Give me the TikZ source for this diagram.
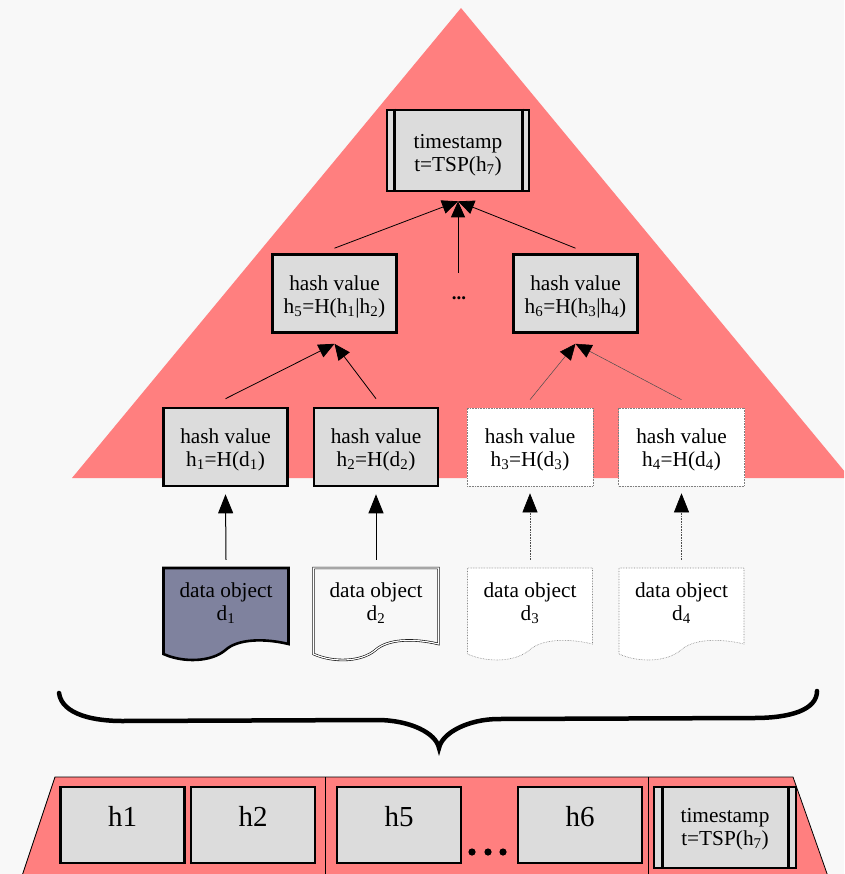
\documentclass[tikz,border=0pt]{standalone}
\usepackage{fontspec}
\setmainfont{Liberation Serif}
\usetikzlibrary{arrows.meta}
\definecolor{bg}{RGB}{248,248,248}
\definecolor{salmon}{RGB}{255,127,127}
\definecolor{boxgray}{RGB}{220,220,220}
\definecolor{dobj}{RGB}{127,130,158}
\newcommand\shiftlines[2]{\raisebox{#1}[\height][\depth]{\begin{tabular}{@{}c@{}}#2\end{tabular}}}
\tikzset{
  every node/.style={font=\fontsize{21.3}{23}\selectfont},
  hbox/.style={draw=black, line width=2.6pt, fill=boxgray, minimum width=124pt, minimum height=78pt, align=center, inner sep=0pt},
  hboxlight/.style={draw=gray, densely dotted, line width=0.6pt, fill=white, minimum width=126pt, minimum height=78pt, align=center, inner sep=0pt},
  tsbox/.style={draw=black, line width=2.6pt, fill=boxgray, minimum width=142pt, minimum height=81pt, align=center, inner sep=0pt},
  bbox/.style={draw=black, line width=2.6pt, fill=boxgray, minimum width=124pt, minimum height=76pt, inner sep=0pt, font=\fontsize{29}{30}\selectfont},
  dtext/.style={minimum width=125pt, minimum height=68pt, align=center, inner sep=0pt},
  arr/.style={-{Triangle[length=16pt,width=14pt]}, line width=0.8pt},
  varr/.style={-{Triangle[length=19pt,width=15pt]}, line width=1pt},
  grayarr/.style={-{Triangle[length=16pt,width=14pt,color=black]}, draw=gray!60!black, line width=0.5pt},
  grayvarr/.style={-{Triangle[length=19pt,width=15pt,color=black]}, draw=gray!60!black, line width=0.6pt, densely dotted},
  docshape/.pic={\path[pic actions] (0,0) -- (0,86) .. controls (20,95) and (48,94) .. (62,82) .. controls (74,71) and (100,70) .. (125,76) -- (125,0) -- cycle;}
}
\begin{document}
\begin{tikzpicture}[x=1pt,y=-1pt]
\useasboundingbox (0,0) rectangle (844,874);
\clip (0,0) rectangle (844,874);
\fill[bg] (0,0) rectangle (844,874);
% triangle
\fill[salmon] (461,8) -- (850,478) -- (72,478) -- cycle;

% top timestamp
\node[tsbox] (ts) at (458,150.5) {\shiftlines{-5pt}{timestamp\\t=TSP(h\textsubscript{7})}};
\draw[line width=2.6pt] ([xshift=9pt]ts.north west) -- ([xshift=9pt]ts.south west);
\draw[line width=2.6pt] ([xshift=-8pt]ts.north east) -- ([xshift=-8pt]ts.south east);

% second level
\node[hbox] (h5) at (334.5,293.5) {\shiftlines{-4pt}{hash value\\h\textsubscript{5}=H(h\textsubscript{1}|h\textsubscript{2})}};
\node[hbox] (h6) at (575.5,293.5) {\shiftlines{-4pt}{hash value\\h\textsubscript{6}=H(h\textsubscript{3}|h\textsubscript{4})}};
\node[font=\fontsize{19}{20}\selectfont\bfseries] (dots) at (459,298) {...};
\coordinate (mid) at (458,273);

% first level
\node[hbox] (h1) at (225.5,447) {\shiftlines{-3.5pt}{hash value\\h\textsubscript{1}=H(d\textsubscript{1})}};
\node[hbox] (h2) at (376,447) {\shiftlines{-3.5pt}{hash value\\h\textsubscript{2}=H(d\textsubscript{2})}};
\node[hboxlight] (h3) at (530,447) {\shiftlines{-3.5pt}{hash value\\h\textsubscript{3}=H(d\textsubscript{3})}};
\node[hboxlight] (h4) at (681.5,447) {\shiftlines{-3.5pt}{hash value\\h\textsubscript{4}=H(d\textsubscript{4})}};

% data objects
\pic[draw=black, line width=2.6pt, fill=dobj] at (163.5,568) {docshape};
\pic[draw=black, line width=0.6pt, double=white, double distance=1.2pt] at (313.5,568) {docshape};
\pic[draw=gray, densely dotted, line width=0.6pt, fill=white] at (467.5,568) {docshape};
\pic[draw=gray, densely dotted, line width=0.6pt, fill=white] at (619,568) {docshape};
\node[dtext] (d1) at (226,602) {\shiftlines{-2pt}{data object\\d\textsubscript{1}}};
\node[dtext] (d2) at (376,602) {\shiftlines{-2pt}{data object\\d\textsubscript{2}}};
\node[dtext] (d3) at (530,602) {\shiftlines{-2pt}{data object\\d\textsubscript{3}}};
\node[dtext] (d4) at (681.5,602) {\shiftlines{-2pt}{data object\\d\textsubscript{4}}};

% arrows
\draw[arr] ([yshift=5pt]h5.north) -- ([yshift=-9pt]ts.south);
\draw[arr] (mid) -- ([yshift=-9pt]ts.south);
\draw[arr] ([yshift=5pt]h6.north) -- ([yshift=-9pt]ts.south);
\draw[arr] ([yshift=8pt]h1.north) -- ([yshift=-10pt]h5.south);
\draw[arr] ([yshift=8pt]h2.north) -- ([yshift=-10pt]h5.south);
\draw[grayarr] ([yshift=8pt]h3.north) -- ([yshift=-10pt]h6.south);
\draw[grayarr] ([yshift=8pt]h4.north) -- ([yshift=-10pt]h6.south);
\draw[varr] ([yshift=8pt]d1.north) -- ([yshift=-7pt]h1.south);
\draw[varr] ([yshift=8pt]d2.north) -- ([yshift=-7pt]h2.south);
\draw[grayvarr] ([yshift=8pt]d3.north) -- ([yshift=-7pt]h3.south);
\draw[grayvarr] ([yshift=8pt]d4.north) -- ([yshift=-7pt]h4.south);

% brace
\draw[line width=4.5pt, line cap=round] (59,693) .. controls (62,715) and (95,721) .. (122,721) -- (377,720) .. controls (410,720) and (436,733) .. (439,748) .. controls (442,733) and (468,719) .. (499,719) -- (754,718) .. controls (790,718) and (817,710) .. (817,691);

% bottom bar
\draw[fill=salmon, line width=0.8pt] (55,777) -- (793,777) -- (831,885) -- (19,885) -- cycle;
\draw[line width=0.8pt] (325,777) -- (325,880);
\draw[line width=0.8pt] (648,777) -- (648,880);
\node[bbox] (b1) at (122.5,825) {\shiftlines{5pt}{h1}};
\node[bbox] (b2) at (253,825) {\shiftlines{5pt}{h2}};
\node[bbox] (b5) at (399,825) {\shiftlines{5pt}{h5}};
\node[bbox] (b6) at (580,825) {\shiftlines{5pt}{h6}};
\node[tsbox] (bts) at (725,827.5) {\shiftlines{-2pt}{timestamp\\t=TSP(h\textsubscript{7})}};
\draw[line width=2.6pt] ([xshift=10pt]bts.north west) -- ([xshift=10pt]bts.south west);
\draw[line width=2.6pt] ([xshift=-9pt]bts.north east) -- ([xshift=-9pt]bts.south east);
\fill (472,852) circle (3.6) (488,852) circle (3.6) (503,852) circle (3.6);
\end{tikzpicture}
\end{document}
